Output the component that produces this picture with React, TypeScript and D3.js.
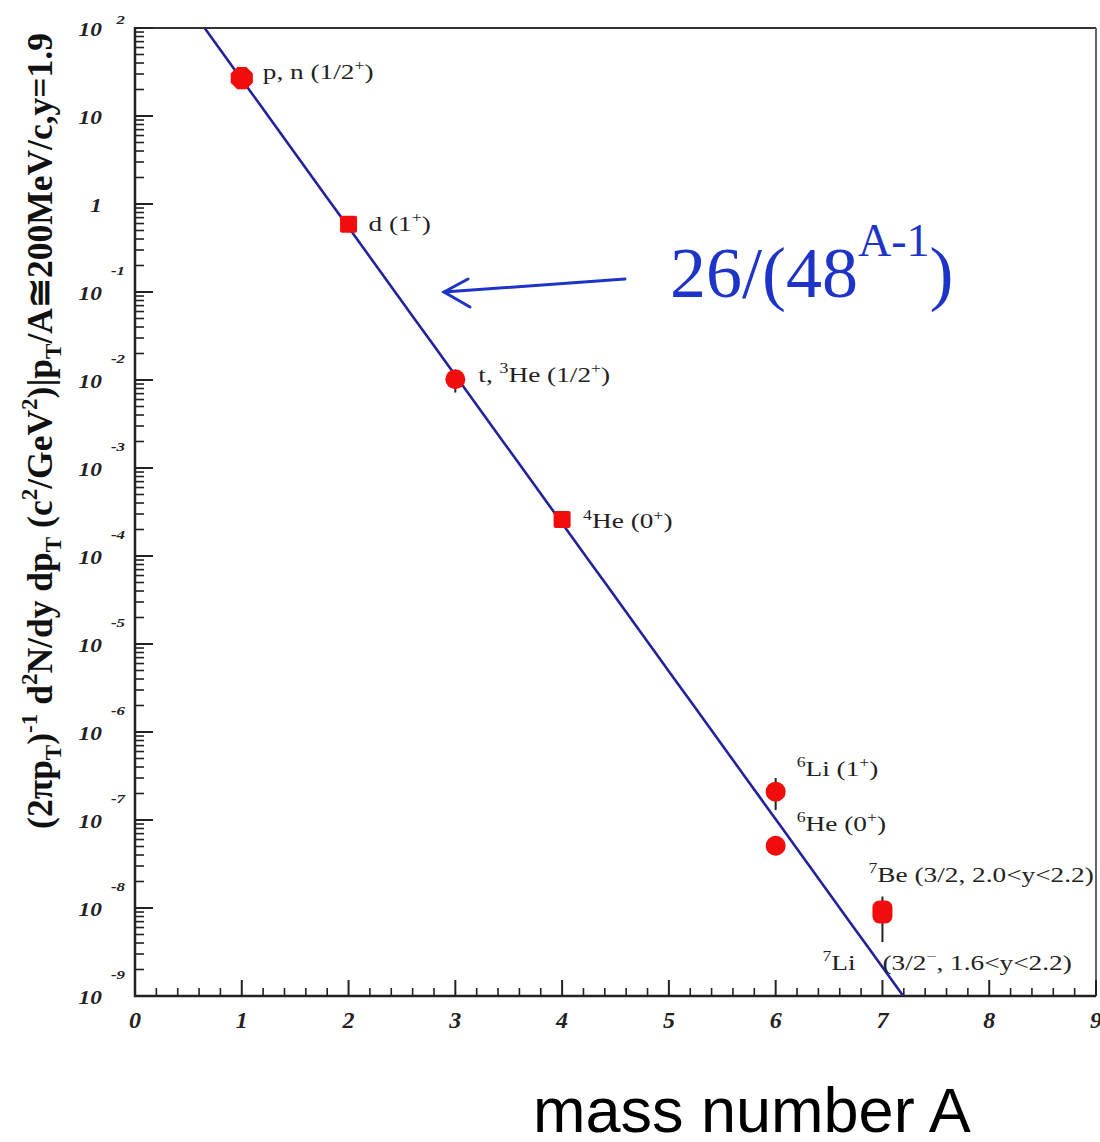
import React from "react";
import * as d3 from "d3";

// ---------- data ----------
const massNumbers = [1, 2, 3, 4, 6, 6, 7];
const yields = [27, 0.59, 0.0102, 2.6e-4, 2.1e-7, 5.1e-8, 9.0e-9];
const errLow: (number | null)[] = [null, null, 7.2e-3, null, 1.3e-7, null, 4.1e-9];
const errHigh: (number | null)[] = [null, null, 1.2e-2, null, 3.0e-7, null, 1.35e-8];
const markerShapes = ["octagon", "square", "circle", "square", "circle", "circle", "tall"];

type Seg = { t: string; sup?: boolean; sub?: boolean };
const pointLabels: Seg[][] = [
  [{ t: "p, n (1/2" }, { t: "+", sup: true }, { t: ")" }],
  [{ t: "d (1" }, { t: "+", sup: true }, { t: ")" }],
  [{ t: "t, " }, { t: "3", sup: true }, { t: "He (1/2" }, { t: "+", sup: true }, { t: ")" }],
  [{ t: "4", sup: true }, { t: "He (0" }, { t: "+", sup: true }, { t: ")" }],
  [{ t: "6", sup: true }, { t: "Li (1" }, { t: "+", sup: true }, { t: ")" }],
  [{ t: "6", sup: true }, { t: "He (0" }, { t: "+", sup: true }, { t: ")" }],
  [{ t: "7", sup: true }, { t: "Be (3/2, 2.0<y<2.2)" }],
];
const extraLabels: Seg[][] = [
  [{ t: "7", sup: true }, { t: "Li" }],
  [{ t: "(3/2" }, { t: "−", sup: true }, { t: ", 1.6<y<2.2)" }],
];

const fitNorm = 26;
const fitBase = 48;
const fitFormula: Seg[] = [{ t: "26/(48" }, { t: "A-1", sup: true }, { t: ")" }];

const xTickValues = [0, 1, 2, 3, 4, 5, 6, 7, 8, 9];
const xTickLabels = ["0", "1", "2", "3", "4", "5", "6", "7", "8", "9"];
const yDecades = [2, 1, 0, -1, -2, -3, -4, -5, -6, -7, -8, -9];
const yTickBase = ["10", "10", "1", "10", "10", "10", "10", "10", "10", "10", "10", "10"];
const yTickExp = ["2", "", "", "-1", "-2", "-3", "-4", "-5", "-6", "-7", "-8", "-9"];

const yTitle: Seg[] = [
  { t: "(2πp" }, { t: "T", sub: true }, { t: ")" }, { t: "-1", sup: true },
  { t: " d" }, { t: "2", sup: true }, { t: "N/dy dp" }, { t: "T", sub: true },
  { t: " (c" }, { t: "2", sup: true }, { t: "/GeV" }, { t: "2", sup: true },
  { t: ")|p" }, { t: "T", sub: true }, { t: "/A≅200MeV/c,y=1.9" },
];
const xTitle = "mass number A";

// ---------- layout ----------
const W = 1100;
const H = 1142;
const L = 135, R = 1096, T = 28, B = 996;
// label offsets relative to marker centre [dx, dy(baseline)]
const labelOffsets = [[21, 1], [20, 7], [23, 3], [21, 9], [21, -16], [21, -15], [-14, -30]];
const extraOffsets = [[-60, 58], [0, 58]];

const serif = "'Liberation Serif', 'DejaVu Serif', Times, serif";
const sans = "'Liberation Sans', Arial, sans-serif";
const RED = "#f20d0d";
const LINE = "#22239c";
const BLUE = "#1e34c8";

function segs(list: Seg[], size: number) {
  let shift = 0;
  return list.map((s, i) => {
    const target = s.sup ? -size * 0.42 : s.sub ? size * 0.25 : 0;
    const dy = target - shift;
    shift = target;
    return (
      <tspan key={i} dy={dy} fontSize={s.sup || s.sub ? size * 0.65 : size}>
        {s.t}
      </tspan>
    );
  });
}

export default function App() {
  const x = d3.scaleLinear().domain([0, 9]).range([L, R]);
  const y = d3.scaleLog().domain([1e-9, 1e2]).range([B, T]);

  // fit line
  const aTop = 1 + Math.log(fitNorm / 1e2) / Math.log(fitBase);
  const aBot = 1 + Math.log(fitNorm / 1e-9) / Math.log(fitBase);
  const fitPts: [number, number][] = d3.range(0, 41).map((i) => {
    const a = aTop + ((aBot - aTop) * i) / 40;
    return [a, fitNorm / Math.pow(fitBase, a - 1)];
  });
  const fitPath = d3.line<[number, number]>().x((d) => x(d[0])).y((d) => y(d[1]))(fitPts) || "";

  // ticks
  const yMinor: { v: number; len: number }[] = [];
  for (let k = -9; k <= 1; k++) {
    for (let m = 2; m <= 9; m++) yMinor.push({ v: m * Math.pow(10, k), len: 9 });
  }
  const xMinor = d3.range(0, 45).map((i) => i * 0.2).filter((v) => Math.abs(v - Math.round(v)) > 1e-6);

  const octagon = (cx: number, cy: number, r: number) => {
    const pts = d3.range(8).map((i) => {
      const a = Math.PI / 8 + (i * Math.PI) / 4;
      return `${cx + r * Math.cos(a)},${cy + r * Math.sin(a)}`;
    });
    return pts.join(" ");
  };

  return (
    <svg width={W} height={H} style={{ position: "absolute", left: 0, top: 0, background: "#fff" }}>
      <rect x={0} y={0} width={W} height={H} fill="#fff" />
      <defs>
        <clipPath id="plot">
          <rect x={L} y={T} width={R - L} height={B - T} />
        </clipPath>
      </defs>

      {/* frame */}
      <line x1={L} x2={R} y1={T} y2={T} stroke="#333" strokeWidth={2} />
      <line x1={R} x2={R} y1={T} y2={B} stroke="#666" strokeWidth={2} />

      {/* y axis ticks */}
      {yDecades.map((k) => (
        <line key={"yM" + k} x1={L} x2={L + 18} y1={y(Math.pow(10, k))} y2={y(Math.pow(10, k))} stroke="#222" strokeWidth={2} />
      ))}
      {yMinor.map((t, i) => (
        <line key={"ym" + i} x1={L} x2={L + t.len} y1={y(t.v)} y2={y(t.v)} stroke="#222" strokeWidth={1.6} />
      ))}
      {/* x axis ticks */}
      {xTickValues.map((v) => (
        <line key={"xM" + v} x1={x(v)} x2={x(v)} y1={B} y2={B - 16} stroke="#222" strokeWidth={2} />
      ))}
      {xMinor.map((v, i) => (
        <line key={"xm" + i} x1={x(v)} x2={x(v)} y1={B} y2={B - 8} stroke="#222" strokeWidth={1.6} />
      ))}
      {/* axes */}
      <line x1={L} x2={L} y1={T - 1} y2={B + 1} stroke="#222" strokeWidth={2.5} />
      <line x1={L - 1} x2={R} y1={B} y2={B} stroke="#222" strokeWidth={2.5} />

      {/* y tick labels */}
      {yDecades.map((k, i) => {
        const py = y(Math.pow(10, k));
        const expY = yTickExp[i] === "2" ? py - 4 : py - 17;
        return (
          <g key={"yl" + k} fontFamily={serif} fontStyle="italic" fontWeight="bold" fill="#222">
            <g transform={`translate(${102},${py + 8}) scale(1.3,1)`}>
              <text textAnchor="end" fontSize={18}>{yTickBase[i]}</text>
            </g>
            {yTickExp[i] && (
              <g transform={`translate(${125},${expY}) scale(1.3,1)`}>
                <text textAnchor="end" fontSize={13}>{yTickExp[i]}</text>
              </g>
            )}
          </g>
        );
      })}
      {/* x tick labels */}
      {xTickValues.map((v, i) => (
        <text key={"xl" + v} x={x(v)} y={B + 32} textAnchor="middle" fontFamily={serif} fontStyle="italic" fontWeight="bold" fontSize={24} fill="#222">
          {xTickLabels[i]}
        </text>
      ))}

      {/* fit line */}
      <g clipPath="url(#plot)">
        <path d={fitPath} fill="none" stroke={LINE} strokeWidth={2.6} />
      </g>

      {/* error bars */}
      {massNumbers.map((a, i) =>
        errLow[i] != null && errHigh[i] != null ? (
          <line key={"e" + i} x1={x(a)} x2={x(a)} y1={y(errLow[i] as number)} y2={y(errHigh[i] as number)} stroke="#222" strokeWidth={2} />
        ) : null
      )}

      {/* markers */}
      {massNumbers.map((a, i) => {
        const cx = x(a), cy = y(yields[i]);
        const s = markerShapes[i];
        if (s === "octagon") return <polygon key={"m" + i} points={octagon(cx, cy, 12)} fill={RED} />;
        if (s === "square") return <rect key={"m" + i} x={cx - 8.5} y={cy - 8.5} width={17} height={17} rx={2} fill={RED} />;
        if (s === "tall") return <rect key={"m" + i} x={cx - 10} y={cy - 11.5} width={20} height={23} rx={7} fill={RED} />;
        return <circle key={"m" + i} cx={cx} cy={cy} r={10} fill={RED} />;
      })}

      {/* point labels */}
      {massNumbers.map((a, i) => (
        <g key={"pl" + i} transform={`translate(${x(a) + labelOffsets[i][0]},${y(yields[i]) + labelOffsets[i][1]}) scale(1.3,1)`}>
          <text fontFamily={serif} fontSize={21} fill="#222">{segs(pointLabels[i], 21)}</text>
        </g>
      ))}
      {extraLabels.map((lab, j) => (
        <g key={"ex" + j} transform={`translate(${x(massNumbers[6]) + extraOffsets[j][0]},${y(yields[6]) + extraOffsets[j][1]}) scale(1.3,1)`}>
          <text fontFamily={serif} fontSize={21} fill="#222">{segs(lab, 21)}</text>
        </g>
      ))}

      {/* formula annotation with arrow */}
      <g stroke={BLUE} strokeWidth={3} fill="none" strokeLinecap="round">
        <line x1={625} y1={279} x2={444} y2={292} />
        <polyline points="468,279 444,292 470,307" />
      </g>
      <text x={670} y={297} fontFamily={serif} fontSize={72} fill={BLUE}>
        <tspan>{fitFormula[0].t}</tspan>
        <tspan dy={-41} fontSize={46}>{fitFormula[1].t}</tspan>
        <tspan dy={41}>{fitFormula[2].t}</tspan>
      </text>

      {/* y title */}
      <g transform={`translate(52,${(T + 834) / 2}) rotate(-90)`}>
        <text textAnchor="middle" fontFamily={serif} fontWeight="bold" fontSize={35.5} fill="#111">
          {segs(yTitle, 35.5)}
        </text>
      </g>

      {/* x title */}
      <text x={533} y={1132} fontFamily={sans} fontSize={63} fill="#000">{xTitle}</text>
    </svg>
  );
}
